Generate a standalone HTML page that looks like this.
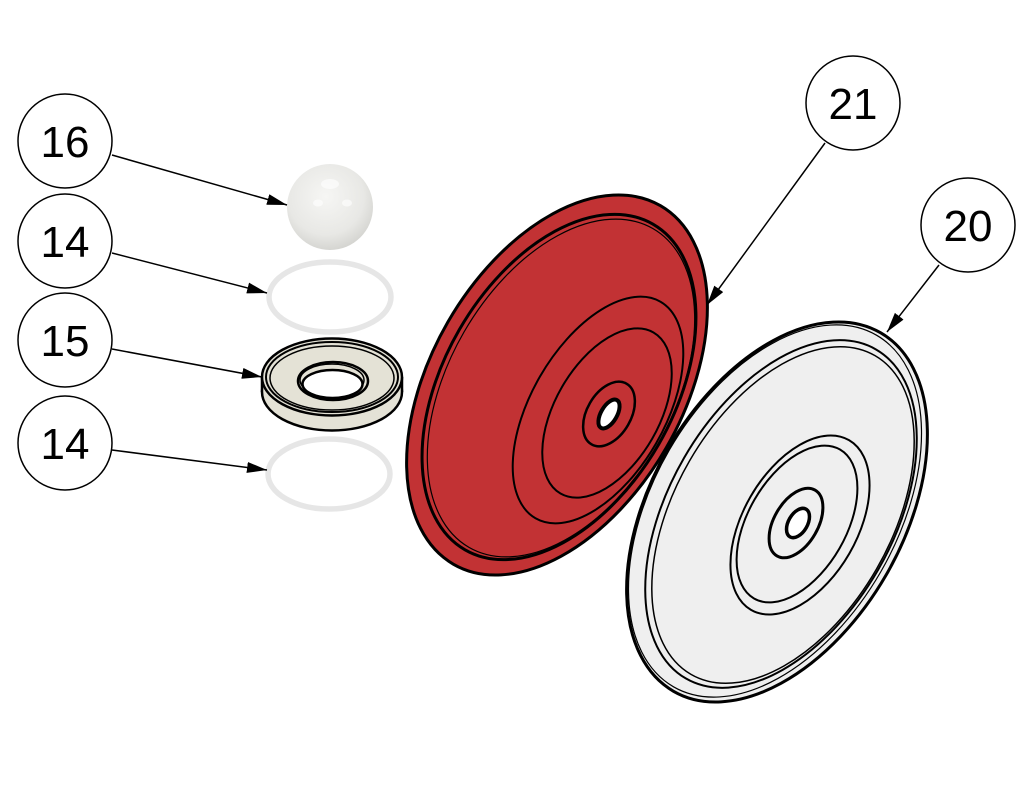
<!DOCTYPE html>
<html>
<head>
<meta charset="utf-8">
<style>
  html,body{margin:0;padding:0;background:#fff;}
  svg{display:block;}
  .num{font-family:"Liberation Sans","DejaVu Sans",sans-serif;font-size:44px;fill:#000;text-anchor:middle;}
</style>
</head>
<body>
<svg width="1024" height="786" viewBox="0 0 1024 786" xmlns="http://www.w3.org/2000/svg">
  <defs>
    <marker id="ah" markerUnits="userSpaceOnUse" markerWidth="22" markerHeight="12" refX="20" refY="5.5" orient="auto">
      <path d="M0,0 L20,5.5 L0,11 z" fill="#000"/>
    </marker>
    <radialGradient id="ballg" cx="0.45" cy="0.38" r="0.68">
      <stop offset="0" stop-color="#f6f6f4"/>
      <stop offset="0.65" stop-color="#e8e8e5"/>
      <stop offset="1" stop-color="#cfcfcb"/>
    </radialGradient>
  </defs>

  <!-- White diaphragm (20) -->
  <g fill="none" stroke="#000">
    <ellipse cx="777" cy="512" rx="207" ry="126" transform="rotate(-60 777 512)" fill="#efefef" stroke-width="3"/>
    <ellipse cx="775" cy="511" rx="203" ry="122" transform="rotate(-60 775 511)" stroke-width="1.2"/>
    <ellipse cx="781" cy="514" rx="190" ry="112" transform="rotate(-60 781 514)" stroke-width="2"/>
    <ellipse cx="783" cy="515" rx="184" ry="108" transform="rotate(-60 783 515)" stroke-width="1.5"/>
    <ellipse cx="800" cy="525" rx="98" ry="57" transform="rotate(-60 800 525)" stroke-width="2"/>
    <ellipse cx="797" cy="524" rx="86" ry="49" transform="rotate(-60 797 524)" stroke-width="2"/>
    <ellipse cx="796" cy="523" rx="38" ry="22" transform="rotate(-60 796 523)" stroke-width="3"/>
    <ellipse cx="798" cy="523" rx="16" ry="9.5" transform="rotate(-60 798 523)" fill="#fff" stroke-width="3.5"/>
  </g>

  <!-- Red diaphragm (21) -->
  <g fill="none" stroke="#000">
    <ellipse cx="557" cy="385" rx="207" ry="126" transform="rotate(-60 557 385)" fill="#c23234" stroke-width="3"/>
    <ellipse cx="559" cy="387" rx="188" ry="115" transform="rotate(-60 559 387)" stroke-width="3"/>
    <ellipse cx="561" cy="388" rx="184" ry="112" transform="rotate(-60 561 388)" stroke-width="1.2"/>
    <ellipse cx="598" cy="410" rx="125" ry="67" transform="rotate(-60 598 410)" stroke-width="2"/>
    <ellipse cx="607" cy="413" rx="93" ry="52" transform="rotate(-60 607 413)" stroke-width="2"/>
    <ellipse cx="609" cy="414" rx="35" ry="22" transform="rotate(-60 609 414)" stroke-width="2.5"/>
    <ellipse cx="609" cy="414" rx="16" ry="8" transform="rotate(-60 609 414)" fill="#fff" stroke-width="4"/>
  </g>

  <!-- Ball (16) -->
  <circle cx="330" cy="207" r="43" fill="url(#ballg)"/>
  <ellipse cx="330" cy="184" rx="9" ry="5" fill="#fff" opacity="0.6"/>
  <ellipse cx="318" cy="203" rx="5" ry="3.5" fill="#fff" opacity="0.6"/>
  <ellipse cx="347" cy="203" rx="5" ry="3.5" fill="#fff" opacity="0.6"/>

  <!-- O-rings (14) -->
  <ellipse cx="330" cy="297" rx="61" ry="35" fill="none" stroke="#e6e6e6" stroke-width="5.5"/>
  <ellipse cx="329" cy="474" rx="61" ry="35" fill="none" stroke="#e6e6e6" stroke-width="5.5"/>

  <!-- Seat (15) -->
  <g stroke="#000" fill="#e4e2d6">
    <ellipse cx="332" cy="392" rx="70" ry="38.5" stroke-width="2.5"/>
    <rect x="262" y="377" width="140" height="15" stroke="none"/>
    <line x1="262" y1="377" x2="262" y2="392" stroke-width="2.5"/>
    <line x1="402" y1="377" x2="402" y2="392" stroke-width="2.5"/>
    <ellipse cx="332" cy="377" rx="70" ry="38.5" stroke-width="2.5"/>
    <ellipse cx="332" cy="377" rx="66" ry="35" fill="none" stroke-width="2"/>
    <ellipse cx="332" cy="378" rx="62" ry="32" fill="none" stroke-width="1.5"/>
    <ellipse cx="333" cy="381" rx="35" ry="19" stroke-width="2.5"/>
    <ellipse cx="332" cy="380" rx="32" ry="16" fill="none" stroke-width="1.5"/>
    <ellipse cx="332.5" cy="384" rx="30" ry="14" fill="#fff" stroke-width="2.5"/>
  </g>

  <!-- Leader lines -->
  <g stroke="#000" stroke-width="1.5" fill="none" marker-end="url(#ah)">
    <line x1="112" y1="155" x2="287" y2="205"/>
    <line x1="112" y1="253" x2="267" y2="293"/>
    <line x1="112" y1="349" x2="262" y2="377"/>
    <line x1="112" y1="450" x2="267" y2="470"/>
    <line x1="825" y1="143" x2="707" y2="305"/>
    <line x1="939" y1="265" x2="887" y2="332"/>
  </g>

  <!-- Balloons -->
  <g fill="#fff" stroke="#000" stroke-width="1.5">
    <circle cx="65" cy="141" r="47"/>
    <circle cx="65" cy="241" r="47"/>
    <circle cx="65" cy="340" r="47"/>
    <circle cx="65" cy="443" r="47"/>
    <circle cx="853" cy="103" r="47"/>
    <circle cx="968" cy="225" r="47"/>
  </g>
  <text class="num" x="65" y="157">16</text>
  <text class="num" x="65" y="257">14</text>
  <text class="num" x="65" y="356">15</text>
  <text class="num" x="65" y="459">14</text>
  <text class="num" x="853" y="119">21</text>
  <text class="num" x="968" y="241">20</text>
</svg>
</body>
</html>
